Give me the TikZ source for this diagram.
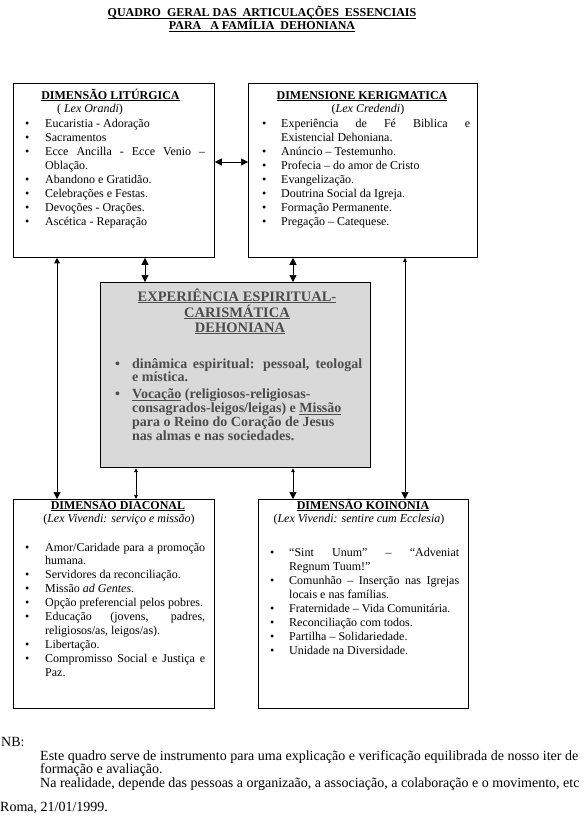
\documentclass[tikz,border=0pt]{standalone}
\usepackage{fontspec}
\setmainfont{Liberation Serif}
\usetikzlibrary{arrows.meta}
\hyphenpenalty=10000
\exhyphenpenalty=10000
\tolerance=10000
\hbadness=10000
\newcommand{\bitem}[2]{\noindent\hangindent=#1\hangafter=1\makebox[#1][l]{\textbullet}\ignorespaces#2\par}
\newcommand{\ulx}[1]{\underline{\smash{#1}}}
\definecolor{cenfill}{gray}{0.85}
\definecolor{centext}{gray}{0.3}
\tikzset{
  BigT/.tip={Triangle[length=7pt,width=7pt]},
  MedT/.tip={Triangle[length=5.5pt,width=5.5pt]},
  SmT/.tip={Triangle[length=4pt,width=3.5pt]},
}
\begin{document}
\begin{tikzpicture}[x=1pt,y=-1pt,
  box/.style={draw,line width=0.8pt,inner sep=0pt,anchor=north west},
  ttl/.style={anchor=base,inner sep=0pt,font=\fontsize{12}{13.8}\selectfont\bfseries},
  cttl/.style={anchor=base,inner sep=0pt,text=centext,font=\fontsize{14.5}{15.5}\selectfont\bfseries},
  sub/.style={anchor=base,inner sep=0pt,font=\fontsize{12}{13.8}\selectfont},
  lst/.style={anchor=base west,inner sep=0pt,align=justify,font=\fontsize{12}{14.1}\selectfont},
  nbt/.style={anchor=base west,inner sep=0pt,font=\fontsize{14}{13.6}\selectfont},
  conn/.style={line width=0.7pt},
]
\useasboundingbox (0,0) rectangle (587,833);

% title
\node[ttl] (t1) at (262,16.5) {\ulx{QUADRO\ \ GERAL\ DAS\ \ ARTICULAÇÕES\ \ ESSENCIAIS}};
\node[ttl] (t2) at (262,29.5) {\ulx{PARA\ \ \ A FAMÍLIA\ \ DEHONIANA}};

% liturgica
\node[box,minimum width=201pt,minimum height=174pt] (lit) at (13,83) {};
\node[ttl] (litT) at (110.5,99) {\ulx{DIMENSÃO LITÚRGICA}};
\node[sub] (litS) at (90,112) {( \textit{Lex Orandi})};
\node[lst,text width=180pt] (litL) at (25,127) {%
\bitem{20pt}{Eucaristia - Adoração}%
\bitem{20pt}{Sacramentos}%
\bitem{20pt}{Ecce Ancilla - Ecce Venio –\linebreak Oblação.}%
\bitem{20pt}{Abandono e Gratidão.}%
\bitem{20pt}{Celebrações e Festas.}%
\bitem{20pt}{Devoções - Orações.}%
\bitem{20pt}{Ascética - Reparação}};

% kerigmatica
\node[box,minimum width=229pt,minimum height=174pt] (ker) at (248,83) {};
\node[ttl] (kerT) at (362,99) {\ulx{DIMENSIONE KERIGMATICA}};
\node[sub] (kerS) at (368,112) {(\textit{Lex Credendi})};
\node[lst,text width=208pt] (kerL) at (262,127) {%
\bitem{19pt}{Experiência de Fé Biblica e\linebreak Existencial Dehoniana.}%
\bitem{19pt}{Anúncio – Testemunho.}%
\bitem{19pt}{Profecia – do amor de Cristo}%
\bitem{19pt}{Evangelização.}%
\bitem{19pt}{Doutrina Social da Igreja.}%
\bitem{19pt}{Formação Permanente.}%
\bitem{19pt}{Pregação – Catequese.}};

% center
\node[box,line width=1.2pt,fill=cenfill,minimum width=270pt,minimum height=185pt] (cen) at (100,282) {};
\node[cttl] (cenT1) at (237,301) {\ulx{EXPERIÊNCIA ESPIRITUAL-}};
\node[cttl] (cenT2) at (237,317) {\ulx{CARISMÁTICA}};
\node[cttl] (cenT3) at (240,332) {\ulx{DEHONIANA}};
\node[lst,text width=247pt,text=centext,font=\fontsize{14}{13.9}\selectfont\bfseries] (cenL) at (115,368) {%
\bitem{17pt}{dinâmica espiritual: pessoal, teologal\linebreak e mística.}%
\vspace{3pt}%
\bitem{17pt}{\ulx{Vocação} (religiosos-religiosas-\\consagrados-leigos/leigas) e \ulx{Missão}\\para o Reino do Coração de Jesus\\nas almas e nas sociedades.}};

% diaconal
\node[box,minimum width=201pt,minimum height=209pt] (dia) at (13,499) {};
\node[ttl] (diaT) at (118,509) {\ulx{DIMENSÃO DIACONAL}};
\node[sub] (diaS) at (119,522) {(\textit{Lex Vivendi: serviço e missão})};
\node[lst,text width=180pt,font=\fontsize{12}{13.9}\selectfont] (diaL) at (25,551) {%
\bitem{20pt}{Amor/Caridade para a promoção\linebreak humana.}%
\bitem{20pt}{Servidores da reconciliação.}%
\bitem{20pt}{Missão \textit{ad Gentes}.}%
\bitem{20pt}{Opção preferencial pelos pobres.}%
\bitem{20pt}{Educação (jovens, padres,\linebreak religiosos/as, leigos/as).}%
\bitem{20pt}{Libertação.}%
\bitem{20pt}{Compromisso Social e Justiça e\linebreak Paz.}};

% koinonia
\node[box,minimum width=210pt,minimum height=209pt] (koi) at (258,499) {};
\node[ttl] (koiT) at (363,509) {\ulx{DIMENSÃO KOINONIA}};
\node[sub] (koiS) at (359,522) {(\textit{Lex Vivendi: sentire cum Ecclesia})};
\node[lst,text width=189pt] (koiL) at (270,556) {%
\bitem{19pt}{“Sint Unum” – “Adveniat\linebreak Regnum Tuum!”}%
\bitem{19pt}{Comunhão – Inserção nas Igrejas\linebreak locais e nas famílias.}%
\bitem{19pt}{Fraternidade – Vida Comunitária.}%
\bitem{19pt}{Reconciliação com todos.}%
\bitem{19pt}{Partilha – Solidariedade.}%
\bitem{19pt}{Unidade na Diversidade.}};

% connectors
\coordinate (xA) at (57,0);
\coordinate (xB) at (145,0);
\coordinate (xC) at (293,0);
\coordinate (xD) at (405,0);
\coordinate (xE) at (136,0);
\coordinate (yH) at (0,162);
\draw[conn,arrows={BigT-BigT}] (lit.east |- yH) -- (ker.west |- yH);
\draw[conn,arrows={MedT-BigT}] (lit.south -| xA) -- (dia.north -| xA);
\draw[conn,arrows={BigT-BigT}] (lit.south -| xB) -- (cen.north -| xB);
\draw[conn,arrows={BigT-BigT}] (ker.south -| xC) -- (cen.north -| xC);
\draw[conn,arrows={SmT-BigT}] (ker.south -| xD) -- (koi.north -| xD);
\draw[conn,arrows={SmT-SmT}] (cen.south -| xE) -- (dia.north -| xE);
\draw[conn,arrows={SmT-BigT}] (cen.south -| xC) -- (koi.north -| xC);

% NB
\node[nbt] (nb) at (1,746) {NB:};
\node[nbt] (nb1) at (40,760) {Este quadro serve de instrumento para uma explicação e verificação equilibrada de nosso iter de};
\node[nbt] (nb2) at (40,773.6) {formação e avaliação.};
\node[nbt] (nb3) at (40,787.2) {Na realidade, depende das pessoas a organizaão, a associação, a colaboração e o movimento, etc};
\node[nbt] (roma) at (0,811) {Roma, 21/01/1999.};
\end{tikzpicture}
\end{document}
